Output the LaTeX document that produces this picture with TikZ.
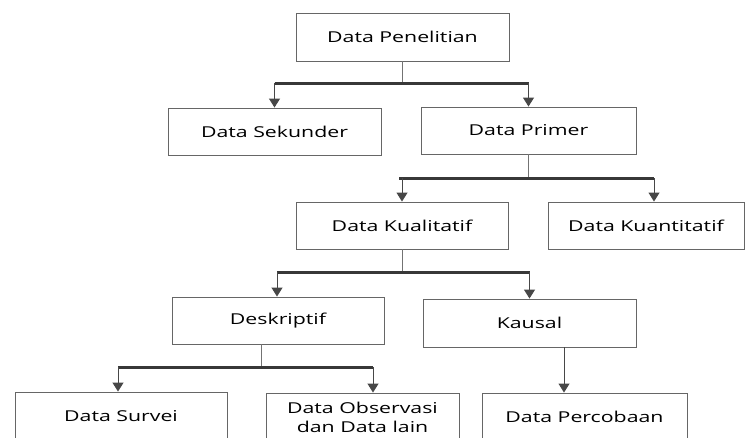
\documentclass[tikz,border=0pt]{standalone}
\usepackage{fontspec}
\setmainfont[FakeStretch=1.42]{Open Sans}
\usetikzlibrary{arrows.meta}
\tikzstyle{BoxData} = [draw=black!60,line width=0.9pt,inner sep=0pt,minimum height=47pt,align=center,font=\fontsize{15}{19}\selectfont]
\tikzstyle{LineStem} = [draw=black!55,line width=1pt]
\tikzstyle{LineBar} = [draw=black!78,line width=2.6pt]
\tikzstyle{LineArrow} = [draw=black!65,line width=1pt,-{Triangle[width=11pt,length=9pt]},color=black!72]

\begin{document}
\begin{tikzpicture}[x=1pt,y=-1pt]
\clip (0,0) rectangle (745,437);

\node[BoxData,minimum width=213pt,minimum height=48pt] (penelitian) at (402.5,37) {Data Penelitian};
\node[BoxData,minimum width=213pt] (sekunder) at (274.5,131.5) {Data Sekunder};
\node[BoxData,minimum width=215pt] (primer) at (528.5,130.5) {Data Primer};

\node[BoxData,minimum width=212pt] (kualitatif) at (402,225.5) {Data Kualitatif};
\node[BoxData,minimum width=196pt] (kuantitatif) at (646,225.5) {Data Kuantitatif};

\node[BoxData,minimum width=212pt] (deskriptif) at (278,320.5) {Deskriptif};
\node[BoxData,minimum width=213pt,minimum height=48pt] (kausal) at (529.5,323) {Kausal};

\node[BoxData,minimum width=212pt,minimum height=48pt] (survei) at (121,416) {Data Survei};
\node[BoxData,minimum width=193pt,minimum height=48pt] (observasi) at (362.5,417) {Data Observasi\\dan Data lain};
\node[BoxData,minimum width=205pt,minimum height=48pt] (percobaan) at (584.5,417) {Data Percobaan};


\draw[LineStem] (penelitian.south) -- ++(0,22) coordinate (bar1);
\draw[LineBar] (sekunder.north |- bar1) -- (primer.north |- bar1);
\draw[LineArrow] (sekunder.north |- bar1) -- (sekunder.north);
\draw[LineArrow] (primer.north |- bar1) -- (primer.north);

\draw[LineStem] (primer.south) -- ++(0,24) coordinate (bar2);
\draw[LineBar] ([xshift=-3pt]kualitatif.north |- bar2) -- ([xshift=8pt]kuantitatif.north |- bar2);
\draw[LineArrow] (kualitatif.north |- bar2) -- (kualitatif.north);
\draw[LineArrow] ([xshift=8pt]kuantitatif.north |- bar2) -- ([xshift=8pt]kuantitatif.north);

\draw[LineStem] (kualitatif.south) -- ++(0,23) coordinate (bar3);
\draw[LineBar] ([xshift=-1pt]deskriptif.north |- bar3) -- (kausal.north |- bar3);
\draw[LineArrow] ([xshift=-1pt]deskriptif.north |- bar3) -- ([xshift=-1pt]deskriptif.north);
\draw[LineArrow] (kausal.north |- bar3) -- (kausal.north);

\draw[LineStem] ([xshift=-17pt]deskriptif.south) -- ++(0,23) coordinate (bar4);
\draw[LineBar] ([xshift=-3pt]survei.north |- bar4) -- ([xshift=10.5pt]observasi.north |- bar4);
\draw[LineArrow] ([xshift=-3pt]survei.north |- bar4) -- ([xshift=-3pt]survei.north);
\draw[LineArrow] ([xshift=10.5pt]observasi.north |- bar4) -- ([xshift=10.5pt]observasi.north);

\draw[LineArrow] ([xshift=34.5pt]kausal.south) -- ([xshift=-20.5pt]percobaan.north);

\end{tikzpicture}
\end{document}
